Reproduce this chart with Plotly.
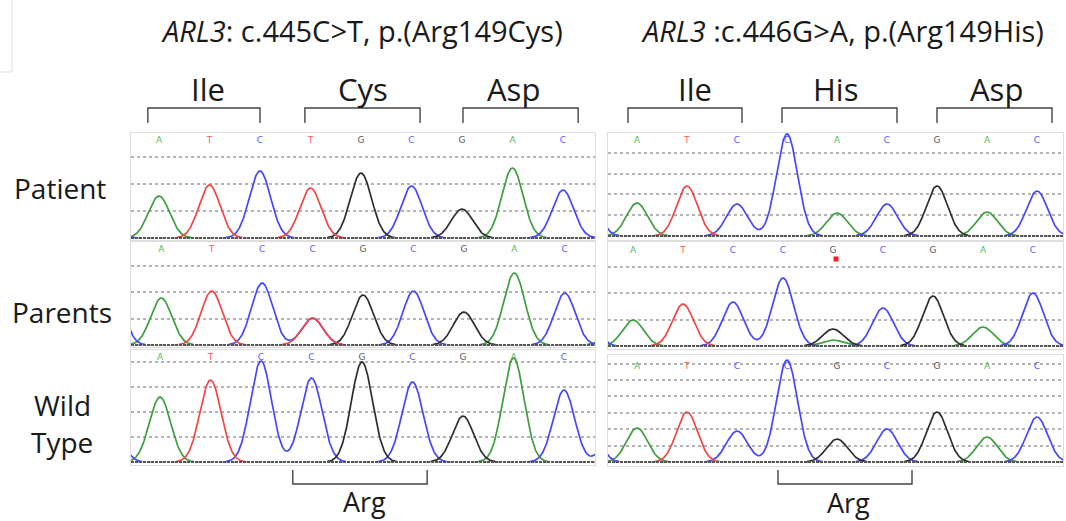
import numpy as np
import plotly.graph_objects as go

W, H = 1066, 521

# ---------------- data ----------------
ROW_LABELS = ["Patient", "Parents", "Wild", "Type"]
TITLE_LEFT = "<i>ARL3</i>: c.445C&gt;T, p.(Arg149Cys)"
TITLE_RIGHT = "<i>ARL3</i> :c.446G&gt;A, p.(Arg149His)"
CODONS_LEFT = ["Ile", "Cys", "Asp"]
CODONS_RIGHT = ["Ile", "His", "Asp"]
WT_CODON = "Arg"

LEFT_PATIENT_BASES = ["A", "T", "C", "T", "G", "C", "G", "A", "C"]
LEFT_PATIENT_PEAKS = [42, 53, 67, 50, 65, 52, 29, 70, 48]
LEFT_PATIENT_SECONDARY = []

LEFT_PARENTS_BASES = ["A", "T", "C", "C", "G", "C", "G", "A", "C"]
LEFT_PARENTS_PEAKS = [47, 54, 62, 27, 50, 54, 33, 72, 52]
LEFT_PARENTS_SECONDARY = [(3, "T", 27)]

LEFT_WT_BASES = ["A", "T", "C", "C", "G", "C", "G", "A", "C"]
LEFT_WT_PEAKS = [65, 82, 101, 84, 100, 80, 46, 104, 72]
LEFT_WT_SECONDARY = []

RIGHT_PATIENT_BASES = ["A", "T", "C", "C", "A", "C", "G", "A", "C"]
RIGHT_PATIENT_PEAKS = [33, 50, 32, 102, 23, 32, 50, 24, 45]
RIGHT_PATIENT_SECONDARY = []

RIGHT_PARENTS_BASES = ["A", "T", "C", "C", "G", "C", "G", "A", "C"]
RIGHT_PARENTS_PEAKS = [26, 42, 44, 68, 17, 38, 50, 19, 53]
RIGHT_PARENTS_SECONDARY = [(4, "A", 6)]

RIGHT_WT_BASES = ["A", "T", "C", "C", "G", "C", "G", "A", "C"]
RIGHT_WT_PEAKS = [34, 50, 31, 102, 23, 33, 50, 25, 45]
RIGHT_WT_SECONDARY = []

# flanking peaks just outside the visible window: (position, base, height)
LEFT_PATIENT_FLANK = [(-1, "C", 10)]
LEFT_PARENTS_FLANK = [(-1, "C", 80), (9, "A", 15)]
LEFT_WT_FLANK = [(-1, "C", 50), (9, "C", 35)]
RIGHT_PATIENT_FLANK = [(-1, "C", 50)]
RIGHT_PARENTS_FLANK = [(-1, "C", 60)]
RIGHT_WT_FLANK = [(-1, "C", 50)]

# ---------------- styles ----------------
SIGMA = 0.21
TRACE_COLORS = {"A": "#3d9f3d", "C": "#4646ff", "G": "#2e2e2e", "T": "#f04646"}
LABEL_COLORS = {"A": "#5bb85b", "C": "#5c5cff", "G": "#5a5a5a", "T": "#ff5a5a"}
FONT = "Open Sans"


def px_x(p):
    return p / W


def px_y(p):
    return 1 - p / H


LEFT_XDOM = [px_x(131), px_x(595)]
RIGHT_XDOM = [px_x(608), px_x(1063)]

panels = [
    dict(bases=LEFT_PATIENT_BASES, peaks=LEFT_PATIENT_PEAKS, sec=LEFT_PATIENT_SECONDARY,
         flank=LEFT_PATIENT_FLANK, xdom=LEFT_XDOM, ydom=[px_y(240), px_y(133)],
         xr=[-0.554, 8.634], yr=[-2, 105], dtick=27, label_y=97),
    dict(bases=LEFT_PARENTS_BASES, peaks=LEFT_PARENTS_PEAKS, sec=LEFT_PARENTS_SECONDARY,
         flank=LEFT_PARENTS_FLANK, xdom=LEFT_XDOM, ydom=[px_y(347), px_y(242)],
         xr=[-0.6, 8.6], yr=[-2, 103], dtick=26.5, label_y=95),
    dict(bases=LEFT_WT_BASES, peaks=LEFT_WT_PEAKS, sec=LEFT_WT_SECONDARY,
         flank=LEFT_WT_FLANK, xdom=LEFT_XDOM, ydom=[px_y(465), px_y(350)],
         xr=[-0.574, 8.614], yr=[-3, 112], dtick=25, label_y=104),
    dict(bases=RIGHT_PATIENT_BASES, peaks=RIGHT_PATIENT_PEAKS, sec=RIGHT_PATIENT_SECONDARY,
         flank=RIGHT_PATIENT_FLANK, xdom=RIGHT_XDOM, ydom=[px_y(240), px_y(133)],
         xr=[-0.58, 8.52], yr=[-4, 103], dtick=20.8, label_y=95),
    dict(bases=RIGHT_PARENTS_BASES, peaks=RIGHT_PARENTS_PEAKS, sec=RIGHT_PARENTS_SECONDARY,
         flank=RIGHT_PARENTS_FLANK, xdom=RIGHT_XDOM, ydom=[px_y(349), px_y(242)],
         xr=[-0.5, 8.6], yr=[-3, 104], dtick=26.3, label_y=95),
    dict(bases=RIGHT_WT_BASES, peaks=RIGHT_WT_PEAKS, sec=RIGHT_WT_SECONDARY,
         flank=RIGHT_WT_FLANK, xdom=RIGHT_XDOM, ydom=[px_y(466), px_y(355)],
         xr=[-0.58, 8.52], yr=[-4, 107], dtick=16.4, label_y=95),
]

fig = go.Figure()
layout = dict(width=W, height=H, margin=dict(l=0, r=0, t=0, b=0),
              paper_bgcolor="white", plot_bgcolor="white", showlegend=False)
shapes = []
annotations = []

xs = np.linspace(-1.6, 9.6, 1400)

for k, p in enumerate(panels, start=1):
    xa = "x" if k == 1 else f"x{k}"
    ya = "y" if k == 1 else f"y{k}"
    layout[f"xaxis{'' if k == 1 else k}"] = dict(
        domain=p["xdom"], range=p["xr"], anchor=ya, showgrid=False, zeroline=False,
        showticklabels=False, ticks="", showline=True, mirror=True,
        linecolor="#dedede", linewidth=1, fixedrange=True)
    layout[f"yaxis{'' if k == 1 else k}"] = dict(
        domain=p["ydom"], range=p["yr"], anchor=xa, showgrid=True, griddash="dot",
        gridcolor="#b4b4b4", gridwidth=2, tick0=0, dtick=p["dtick"], zeroline=False,
        showticklabels=False, ticks="", showline=True, mirror=True,
        linecolor="#dedede", linewidth=1, fixedrange=True)

    # base-call letters (under the traces)
    idx = list(range(len(p["bases"])))
    fig.add_trace(go.Scatter(
        x=idx, y=[p["label_y"]] * len(idx), mode="text", text=p["bases"],
        textfont=dict(family="DejaVu Sans", size=9,
                      color=[LABEL_COLORS[b] for b in p["bases"]]),
        xaxis=xa, yaxis=ya, hoverinfo="skip"))

    # gather peaks per channel
    peaks = [(i, b, h) for i, (b, h) in enumerate(zip(p["bases"], p["peaks"]))]
    peaks += list(p["sec"]) + list(p["flank"])
    for ch in ["A", "C", "G", "T"]:
        sig = np.zeros_like(xs)
        found = False
        for pos, b, h in peaks:
            if b == ch:
                sig += h * np.exp(-0.5 * ((xs - pos) / SIGMA) ** 2)
                found = True
        if not found:
            continue
        ys = np.where(sig > 0.4, sig, np.nan)
        fig.add_trace(go.Scatter(
            x=xs, y=ys, mode="lines", line=dict(color=TRACE_COLORS[ch], width=1.7),
            xaxis=xa, yaxis=ya, hoverinfo="skip", connectgaps=False))

    # dashed baseline
    shapes.append(dict(type="line", xref=f"{xa} domain", yref=ya, x0=0, x1=1, y0=0, y1=0,
                       line=dict(color="#555555", width=2, dash="3px,1px"), layer="above"))

# red quality marker in right "Parents" panel
fig.add_trace(go.Scatter(x=[4.06], y=[87], mode="markers",
                         marker=dict(color="#ff1a1a", size=5, symbol="square"),
                         xaxis="x5", yaxis="y5", hoverinfo="skip"))

# codon brackets (top, open downward) in data units of the top panels
BRACKETS_LEFT = [(-0.22, 2.0), (2.89, 5.17), (6.02, 8.3)]
BRACKETS_RIGHT = [(-0.18, 2.1), (2.9, 5.2), (6.0, 8.3)]
yt, yb = px_y(108), px_y(123)
for xref, brs in [("x", BRACKETS_LEFT), ("x4", BRACKETS_RIGHT)]:
    for x0, x1 in brs:
        shapes.append(dict(type="path", xref=xref, yref="paper",
                           path=f"M {x0},{yb} L {x0},{yt} L {x1},{yt} L {x1},{yb}",
                           line=dict(color="#444444", width=1.4)))

# Arg brackets (bottom, open upward)
ARG_LEFT = (2.63, 5.29)
ARG_RIGHT = (2.82, 5.5)
at, ab = px_y(470), px_y(484)
for xref, (x0, x1) in [("x3", ARG_LEFT), ("x6", ARG_RIGHT)]:
    shapes.append(dict(type="path", xref=xref, yref="paper",
                       path=f"M {x0},{at} L {x0},{ab} L {x1},{ab} L {x1},{at}",
                       line=dict(color="#444444", width=1.4)))

# faint frame remnant at top-left
shapes.append(dict(type="rect", xref="paper", yref="paper", x0=-0.02, x1=px_x(12),
                   y0=px_y(72), y1=1.02, line=dict(color="#e2e2e2", width=1)))


def ann(text, x, y, size, **kw):
    annotations.append(dict(text=text, x=px_x(x), y=px_y(y), xref="paper", yref="paper",
                            showarrow=False, xanchor="center", yanchor="middle",
                            font=dict(family=FONT, size=size, color="#1a1a1a"), **kw))


ann(TITLE_LEFT, 362, 31, 29)
ann(TITLE_RIGHT, 842, 31, 29)
for t, x in zip(CODONS_LEFT, [208, 363, 513]):
    ann(t, x, 89, 31)
for t, x in zip(CODONS_RIGHT, [695, 835, 996]):
    ann(t, x, 89, 31)
ann(ROW_LABELS[0], 60, 188, 28)
ann(ROW_LABELS[1], 62, 312, 28)
ann(ROW_LABELS[2], 62, 405, 28)
ann(ROW_LABELS[3], 62, 442, 28)
ann(WT_CODON, 364, 501, 27)
ann(WT_CODON, 848, 502, 27)

layout["shapes"] = shapes
layout["annotations"] = annotations
fig.update_layout(**layout)
fig.write_html("out.html")
